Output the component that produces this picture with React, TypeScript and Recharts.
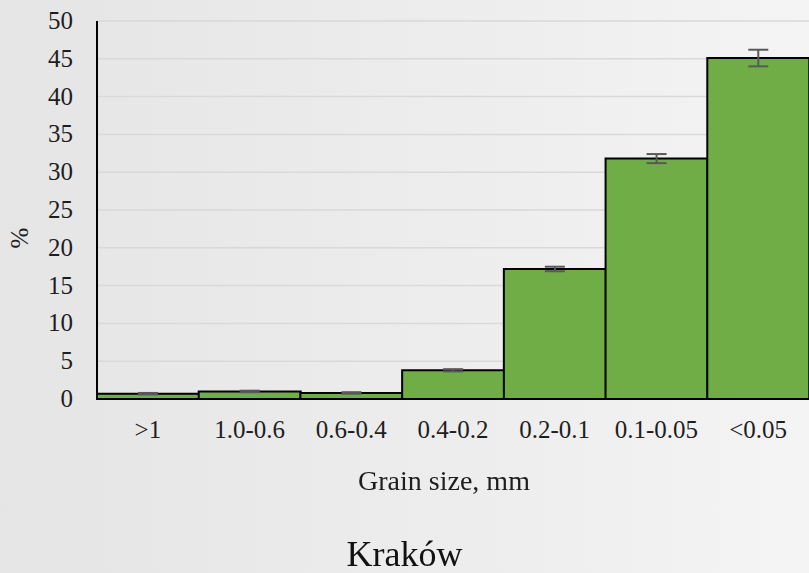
import { BarChart, Bar, XAxis, YAxis, CartesianGrid, ErrorBar } from 'recharts';

const categories = ['>1', '1.0-0.6', '0.6-0.4', '0.4-0.2', '0.2-0.1', '0.1-0.05', '<0.05'];
const percentValues = [0.7, 1.0, 0.8, 3.8, 17.2, 31.8, 45.1];
const errorValues = [0.1, 0.1, 0.1, 0.15, 0.3, 0.6, 1.1];
const yTicks = [0, 5, 10, 15, 20, 25, 30, 35, 40, 45, 50];

const chartData = categories.map((name, i) => ({
  name,
  value: percentValues[i],
  err: errorValues[i],
}));

const FONT = '"Liberation Serif", "Times New Roman", serif';
const TEXT = '#1e1e1e';

const XTick = ({ x, y, payload }: any) => (
  <text x={x} y={y + 37} textAnchor="middle" fontFamily="Liberation Serif" fontSize={25} fill={TEXT}>
    {payload.value}
  </text>
);

const YTick = ({ y, payload }: any) => (
  <text x={73} y={y + 8} textAnchor="end" fontFamily="Liberation Serif" fontSize={25} fill={TEXT}>
    {payload.value}
  </text>
);

const App = () => {
  return (
    <div
      style={{
        position: 'fixed',
        top: 0,
        left: 0,
        width: 809,
        height: 573,
        background: 'linear-gradient(90deg, #e6e5e6 0%, #ececed 50%, #f4f4f4 100%)',
        fontFamily: FONT,
      }}
    >
      <BarChart
        width={809}
        height={573}
        data={chartData}
        margin={{ top: 21, right: 0, left: 0, bottom: 74 }}
        barCategoryGap={0}
      >
        <CartesianGrid vertical={false} stroke="#d9d9d9" strokeWidth={1.5} />
        <XAxis
          dataKey="name"
          height={100}
          tickLine={false}
          tickSize={0}
          axisLine={{ stroke: '#000', strokeWidth: 2 }}
          tick={<XTick />}
        />
        <YAxis
          width={97}
          domain={[0, 50]}
          ticks={yTicks}
          interval={0}
          tickLine={false}
          tickSize={0}
          axisLine={{ stroke: '#000', strokeWidth: 2 }}
          tick={<YTick />}
        />
        <Bar dataKey="value" fill="#70ad47" stroke="#000" strokeWidth={2} isAnimationActive={false}>
          <ErrorBar dataKey="err" width={10} stroke="#595959" strokeWidth={2} isAnimationActive={false} />
        </Bar>
      </BarChart>
      <div
        style={{
          position: 'absolute',
          top: 238,
          left: 19,
          transform: 'translate(-50%, -50%) rotate(-90deg)',
          fontSize: 25,
          lineHeight: '25px',
          color: TEXT,
          fontFamily: FONT,
        }}
      >
        %
      </div>
      <div
        style={{
          position: 'absolute',
          top: 464,
          left: 0,
          width: 888,
          textAlign: 'center',
          fontSize: 28,
          lineHeight: '34px',
          color: TEXT,
          fontFamily: FONT,
        }}
      >
        Grain size, mm
      </div>
      <div
        style={{
          position: 'absolute',
          top: 532,
          left: 0,
          width: 809,
          textAlign: 'center',
          fontSize: 36,
          lineHeight: '44px',
          color: '#111',
          fontFamily: FONT,
        }}
      >
        Kraków
      </div>
    </div>
  );
};

export default App;
